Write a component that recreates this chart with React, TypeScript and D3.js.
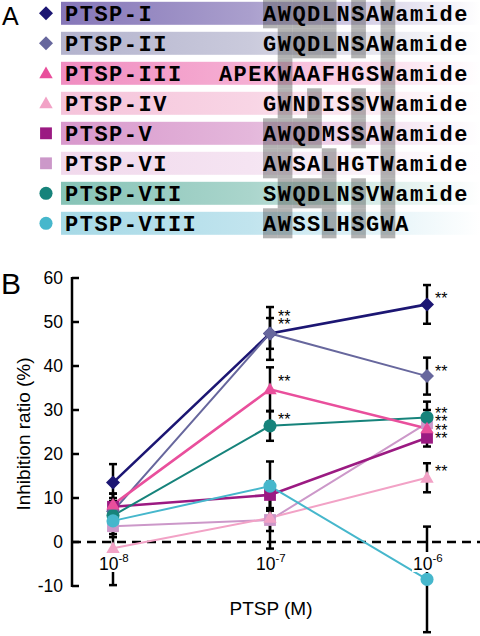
import React from "react";
import * as d3 from "d3";

// ---------- Data ----------
const peptides = ["PTSP-I", "PTSP-II", "PTSP-III", "PTSP-IV", "PTSP-V", "PTSP-VI", "PTSP-VII", "PTSP-VIII"];
const sequences = [
  "AWQDLNSAWamide",
  "GWQDLNSAWamide",
  "APEKWAAFHGSWamide",
  "GWNDISSVWamide",
  "AWQDMSSAWamide",
  "AWSALHGTWamide",
  "SWQDLNSVWamide",
  "AWSSLHSGWA",
];
// offset (in residues) of the alignment frame start within each sequence
const alignOffset = [0, 0, 3, 0, 0, 0, 0, 0];
const alignCols = 9;

const concentrations = [1e-8, 1e-7, 1e-6];
const concLabels = ["-8", "-7", "-6"];

const valI = [13.5, 47.4, 54.0];
const valII = [7.0, 47.4, 37.7];
const valIII = [8.5, 34.7, 25.8];
const valIV = [-1.4, 5.5, 14.6];
const valV = [8.0, 10.7, 23.7];
const valVI = [3.6, 5.0, 27.0];
const valVII = [6.0, 26.4, 28.3];
const valVIII = [4.8, 12.7, -8.5];

const errI = [4.2, 6.0, 4.4];
const errII = [3.0, 3.5, 4.2];
const errIII = [2.5, 5.0, 3.0];
const errIV = [8.4, 7.0, 3.3];
const errV = [3.0, 3.0, 2.0];
const errVI = [2.5, 2.5, 3.0];
const errVII = [2.5, 3.4, 3.6];
const errVIII = [3.0, 5.6, 12.0];

const seriesValues = [valI, valII, valIII, valIV, valV, valVI, valVII, valVIII];
const seriesErrors = [errI, errII, errIII, errIV, errV, errVI, errVII, errVIII];
const seriesColors = ["#1c1673", "#67679d", "#e94f9c", "#f2a2c6", "#9b1a82", "#cc98c9", "#16837b", "#46b7cc"];
const barColors = ["#8576b8", "#b3b3cd", "#f08cc0", "#f5c3da", "#d898cc", "#f1d9ec", "#86c3b6", "#a6d9e6"];
const seriesShapes = ["diamond", "diamond", "triangle", "triangle", "square", "square", "circle", "circle"];
const lineWidths = [2.6, 2, 2.6, 2, 2.6, 2, 2, 2];
const drawOrder = [5, 4, 0, 1, 6, 3, 7, 2];

const yTicks = [-10, 0, 10, 20, 30, 40, 50, 60];

// significance marks: [concentration index, y value]
const starConc = [1, 1, 1, 1, 2, 2, 2, 2, 2, 2, 2];
const starVal = [52.1, 50.2, 37.3, 28.7, 56.1, 39.5, 30.0, 28.2, 26.2, 24.3, 16.8];

// ---------- Layout ----------
const W = 480;
const H = 636;
const rowTop = 13.3;
const rowPitch = 30;
const barH = 23;
const barX0 = 61;
const seqX0 = 263;
const charW = 14.7;
const monoSize = 22;
const monoSpacing = charW - monoSize * 0.6;

const x = d3.scaleLog().domain([1e-8, 1e-6]).range([113, 427]);
const y = d3.scaleLinear().domain([-10, 60]).range([586, 278]);
const axisX = 72;

function symbolPath(shape: string) {
  switch (shape) {
    case "diamond":
      return d3.symbol().type(d3.symbolSquare).size(98)() as string;
    case "triangle":
      return d3.symbol().type(d3.symbolTriangle).size(78)() as string;
    case "square":
      return d3.symbol().type(d3.symbolSquare).size(140)() as string;
    default:
      return d3.symbol().type(d3.symbolCircle).size(135)() as string;
  }
}
function symbolTransform(shape: string, cx: number, cy: number) {
  if (shape === "diamond") return `translate(${cx},${cy}) rotate(45)`;
  if (shape === "triangle") return `translate(${cx},${cy + 1})`;
  return `translate(${cx},${cy})`;
}

// consensus shading: residue equal to the column's majority residue (>=4 of 8)
function conservedCells() {
  const cells: { r: number; k: number }[] = [];
  for (let k = 0; k < alignCols; k++) {
    const col = sequences.map((s, i) => s[alignOffset[i] + k]);
    const counts = d3.rollup(col, (v) => v.length, (c) => c);
    let best = "";
    let bestN = 0;
    counts.forEach((n, c) => {
      if (n > bestN) {
        bestN = n;
        best = c;
      }
    });
    if (bestN >= 4) col.forEach((c, r) => c === best && cells.push({ r, k }));
  }
  return cells;
}

const mono = "Liberation Mono, Courier New, monospace";
const sans = "Liberation Sans, Arial, sans-serif";

export default function App() {
  const cells = conservedCells();
  const line = d3
    .line<number>()
    .x((_, i) => x(concentrations[i]))
    .y((v) => y(v));

  return (
    <svg width={W} height={H} style={{ position: "absolute", left: 0, top: 0, background: "#fff" }}>
      <defs>
        {barColors.map((c, i) => (
          <linearGradient key={i} id={`g${i}`} x1="0" x2="1" y1="0" y2="0">
            <stop offset="0%" stopColor={c} />
            <stop offset="45%" stopColor={d3.interpolateRgb(c, "#ffffff")(0.3)} />
            <stop offset="100%" stopColor="#ffffff" />
          </linearGradient>
        ))}
      </defs>

      {/* Panel A */}
      <text x={2} y={25} fontFamily={sans} fontSize={25}>A</text>
      {peptides.map((p, i) => {
        const cy = rowTop + i * rowPitch;
        return <rect key={p} x={barX0} y={cy - barH / 2} width={W - barX0} height={barH} fill={`url(#g${i})`} />;
      })}
      {cells.map(({ r, k }) => (
        <rect
          key={`${r}-${k}`}
          x={seqX0 + k * charW}
          y={rowTop + r * rowPitch - rowPitch / 2}
          width={charW}
          height={rowPitch}
          fill="#4a4a4a"
          fillOpacity={0.42}
        />
      ))}
      {peptides.map((p, i) => {
        const cy = rowTop + i * rowPitch;
        return (
          <g key={p + "t"}>
            <path d={symbolPath(seriesShapes[i])} transform={symbolTransform(seriesShapes[i], 46, cy)} fill={seriesColors[i]} />
            <text x={65} y={cy + 7.3} fontFamily={mono} fontWeight="bold" fontSize={monoSize} letterSpacing={monoSpacing}>
              {p}
            </text>
            <text
              x={seqX0 - alignOffset[i] * charW}
              y={cy + 7.3}
              fontFamily={mono}
              fontWeight="bold"
              fontSize={monoSize}
              letterSpacing={monoSpacing}
            >
              {sequences[i]}
            </text>
          </g>
        );
      })}

      {/* Panel B */}
      <text x={1} y={294} fontFamily={sans} fontSize={30}>B</text>

      {/* y axis */}
      <line x1={axisX} x2={axisX} y1={y(60) - 1} y2={y(-10) + 1} stroke="#000" strokeWidth={2.5} />
      {yTicks.map((t) => (
        <g key={t}>
          <line x1={axisX} x2={axisX + 7} y1={y(t)} y2={y(t)} stroke="#000" strokeWidth={2.5} />
          <text x={63} y={y(t) + 6} textAnchor="end" fontFamily={sans} fontSize={17.5}>
            {t}
          </text>
        </g>
      ))}
      <text
        transform={`translate(30,${(y(-10) + y(60)) / 2 + 2}) rotate(-90)`}
        textAnchor="middle"
        fontFamily={sans}
        fontSize={19}
      >
        Inhibition ratio (%)
      </text>

      {/* zero line */}
      <line x1={axisX} x2={W} y1={y(0)} y2={y(0)} stroke="#000" strokeWidth={2.5} strokeDasharray="9,6" />

      {/* lines */}
      {drawOrder.map((s) => (
        <path key={"l" + s} d={line(seriesValues[s]) as string} fill="none" stroke={seriesColors[s]} strokeWidth={lineWidths[s]} />
      ))}

      {/* error bars */}
      {drawOrder.map((s) =>
        seriesValues[s].map((v, i) => {
          const cx = x(concentrations[i]);
          const e = seriesErrors[s][i];
          return (
            <g key={`e${s}-${i}`} stroke="#000" strokeWidth={2.5}>
              <line x1={cx} x2={cx} y1={y(v + e)} y2={y(v - e)} />
              <line x1={cx - 4} x2={cx + 4} y1={y(v + e)} y2={y(v + e)} />
              <line x1={cx - 4} x2={cx + 4} y1={y(v - e)} y2={y(v - e)} />
            </g>
          );
        })
      )}

      {/* x tick labels (drawn over the error bars) */}
      {concentrations.map((c, i) => (
        <g key={c}>
          <rect x={x(c) - 15} y={552} width={31} height={20} fill="#fff" />
          <text x={x(c) - 14} y={570} fontFamily={sans} fontSize={17.5}>
            10
            <tspan fontSize={11.5} dy={-8}>{concLabels[i]}</tspan>
          </text>
        </g>
      ))}
      <text x={271} y={615} textAnchor="middle" fontFamily={sans} fontSize={19}>
        PTSP (M)
      </text>

      {/* markers */}
      {drawOrder.map((s) =>
        seriesValues[s].map((v, i) => (
          <path
            key={`m${s}-${i}`}
            d={symbolPath(seriesShapes[s])}
            transform={symbolTransform(seriesShapes[s], x(concentrations[i]), y(v))}
            fill={seriesColors[s]}
          />
        ))
      )}

      {/* significance */}
      {starConc.map((ci, j) => (
        <text key={"s" + j} x={x(concentrations[ci]) + 8} y={y(starVal[j]) + 9} fontFamily={sans} fontSize={16}>
          **
        </text>
      ))}
    </svg>
  );
}
